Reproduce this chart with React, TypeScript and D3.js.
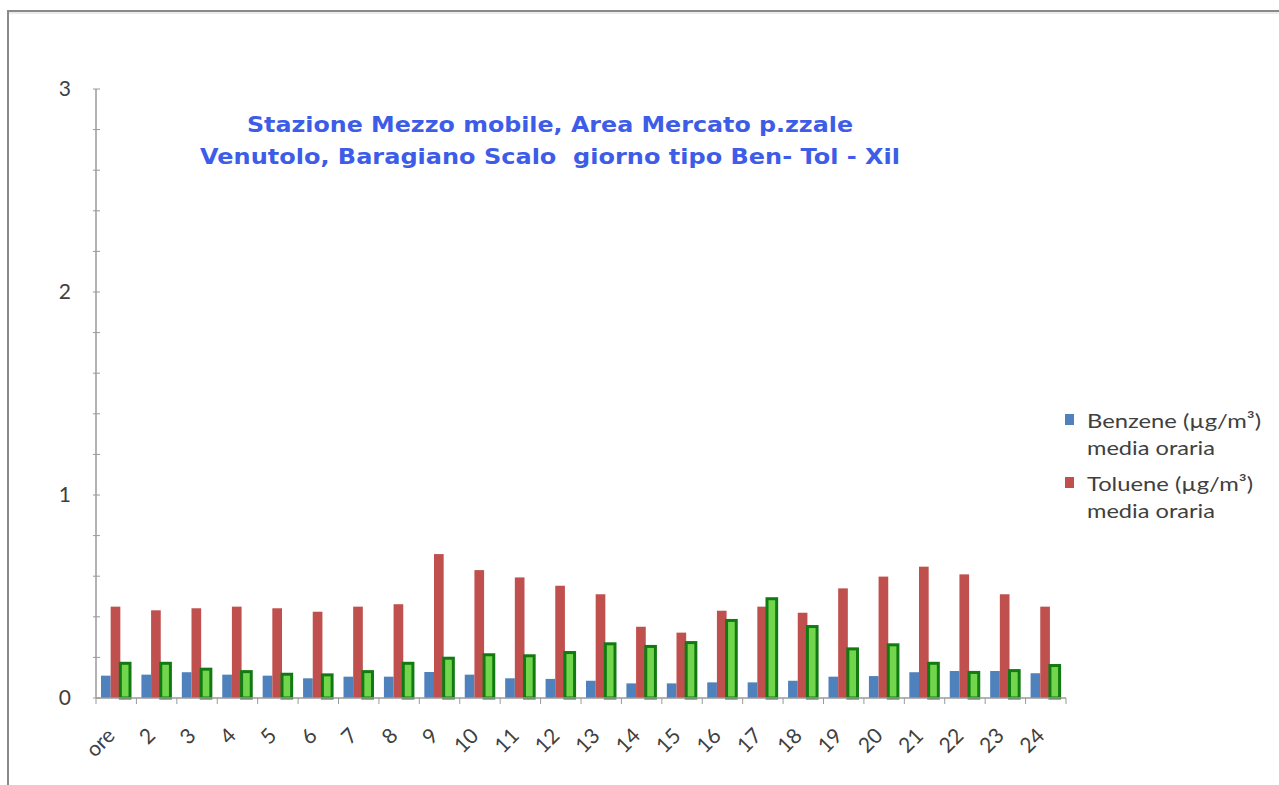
import React from "react";
import * as d3 from "d3";

const hours = ["ore", "2", "3", "4", "5", "6", "7", "8", "9", "10", "11", "12", "13", "14", "15", "16", "17", "18", "19", "20", "21", "22", "23", "24"];
const benzene = [0.11, 0.115, 0.127, 0.115, 0.11, 0.097, 0.105, 0.105, 0.128, 0.115, 0.097, 0.094, 0.085, 0.072, 0.072, 0.077, 0.077, 0.085, 0.105, 0.108, 0.127, 0.133, 0.133, 0.122];
const toluene = [0.45, 0.432, 0.442, 0.45, 0.442, 0.425, 0.45, 0.462, 0.709, 0.63, 0.594, 0.553, 0.511, 0.351, 0.322, 0.43, 0.45, 0.42, 0.54, 0.598, 0.647, 0.609, 0.511, 0.45];
const xilene = [0.171, 0.171, 0.142, 0.13, 0.117, 0.114, 0.13, 0.171, 0.196, 0.213, 0.208, 0.224, 0.267, 0.254, 0.273, 0.382, 0.489, 0.352, 0.242, 0.262, 0.171, 0.126, 0.135, 0.16];
const yTicks = [0, 1, 2, 3];
const titleLines = ["Stazione Mezzo mobile, Area Mercato p.zzale", "Venutolo, Baragiano Scalo  giorno tipo Ben- Tol - Xil"];
const legendItems = [
  { name: "Benzene (µg/m³)", sub: "media oraria", color: "#4f81bd" },
  { name: "Toluene (µg/m³)", sub: "media oraria", color: "#c0504d" },
];

const W = 1279;
const H = 785;
const left = 96;
const right = 1066;
const top = 89;
const bottom = 698;

export default function App() {
  const x = d3.scaleBand<string>().domain(hours).range([left, right]);
  const inner = d3.scaleBand<string>().domain(["b", "t", "x"]).range([5, 34]);
  const y = d3.scaleLinear().domain([0, 3]).range([bottom, top]);
  const minor = d3.range(0, 3.0001, 0.2);
  const font = "Lato, 'Open Sans', sans-serif";

  return (
    <svg width={W} height={H} style={{ position: "absolute", left: 0, top: 0, display: "block" }}>
      <rect x={0} y={0} width={W} height={H} fill="#fff" />
      {/* outer frame */}
      <line x1={8} x2={W} y1={11} y2={11} stroke="#8a8a8a" strokeWidth={2} />
      <line x1={8} x2={W} y1={13} y2={13} stroke="#ececec" strokeWidth={2} />
      <line x1={8} x2={8} y1={10} y2={H} stroke="#8a8a8a" strokeWidth={2} />

      {/* title */}
      {titleLines.map((t, i) => (
        <text key={i} x={550} y={132 + i * 32} textAnchor="middle" fill="#3d5ce8" fontFamily="'DejaVu Sans', sans-serif"
          fontWeight="bold" fontSize={22} textLength={i === 0 ? 606 : 700} lengthAdjust="spacingAndGlyphs"
          style={{ whiteSpace: "pre" }}>
          {t}
        </text>
      ))}

      {/* y axis */}
      <line x1={left} x2={left} y1={top} y2={bottom} stroke="#9a9a9a" strokeWidth={1.5} />
      {minor.map((v, i) => (
        <line key={i} x1={93} x2={100} y1={y(v)} y2={y(v)} stroke="#9a9a9a" strokeWidth={1} />
      ))}
      {yTicks.map((v) => (
        <text key={v} x={71} y={y(v) + 7} textAnchor="end" fontFamily={font} fontSize={21} fill="#404040">
          {v}
        </text>
      ))}

      {/* bars */}
      {hours.map((h, i) => {
        const x0 = x(h)!;
        return (
          <g key={h}>
            <rect x={x0 + inner("b")!} y={y(benzene[i])} width={inner.bandwidth()} height={bottom - y(benzene[i])} fill="#4f81bd" />
            <rect x={x0 + inner("t")!} y={y(toluene[i])} width={inner.bandwidth()} height={bottom - y(toluene[i])} fill="#c0504d" />
            <rect x={x0 + inner("x")!} y={y(xilene[i])} width={inner.bandwidth()} height={bottom - y(xilene[i])}
              fill="#72d64c" stroke="#127a12" strokeWidth={3} />
          </g>
        );
      })}

      {/* x axis */}
      <line x1={left} x2={right} y1={bottom} y2={bottom} stroke="#9a9a9a" strokeWidth={1.5} />
      {[...hours.map((h) => x(h)!), right].map((px, i) => (
        <line key={i} x1={px} x2={px} y1={bottom} y2={bottom + 6} stroke="#9a9a9a" strokeWidth={1} />
      ))}
      {hours.map((h) => {
        const cx = x(h)! + x.bandwidth() / 2;
        const cy = 737;
        return (
          <text key={h} x={cx} y={cy} textAnchor="end" fontFamily={font} fontSize={21} fill="#404040"
            transform={`rotate(-45 ${cx} ${cy})`}>
            {h}
          </text>
        );
      })}

      {/* legend */}
      {legendItems.map((d, i) => (
        <g key={d.name} transform={`translate(1065, ${414 + i * 63})`}>
          <rect x={0} y={0} width={9} height={11} fill={d.color} />
          <text x={22} y={14} fontFamily={font} fontSize={20} fill="#404040" textLength={i === 0 ? 174 : 166}
            lengthAdjust="spacingAndGlyphs">{d.name}</text>
          <text x={22} y={41} fontFamily={font} fontSize={20} fill="#404040" textLength={128}
            lengthAdjust="spacingAndGlyphs">{d.sub}</text>
        </g>
      ))}
    </svg>
  );
}
